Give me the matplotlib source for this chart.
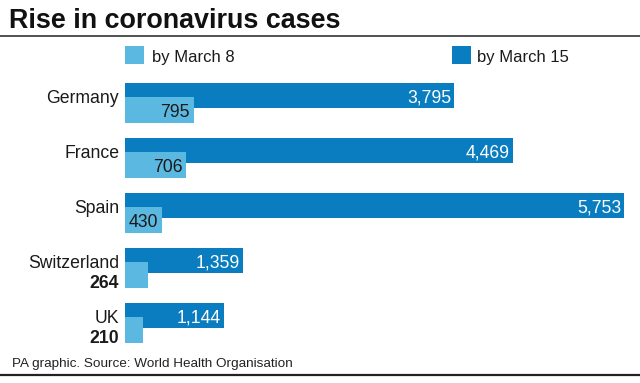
import matplotlib
matplotlib.use("Agg")
import matplotlib.pyplot as plt
from matplotlib.patches import Rectangle
from matplotlib.lines import Line2D
import numpy as np

countries = ["Germany", "France", "Spain", "Switzerland", "UK"]
march8 = [795, 706, 430, 264, 210]
march15 = [3795, 4469, 5753, 1359, 1144]
legend_labels = ["by March 8", "by March 15"]
title = "Rise in coronavirus cases"
source = "PA graphic. Source: World Health Organisation"

DARK = "#0a7dc1"
LIGHT = "#5bb8e1"
TXT = "#1a1a1a"
plt.rcParams["font.family"] = ["Liberation Sans", "DejaVu Sans"]

W, H = 640, 383
fig = plt.figure(figsize=(W / 100, H / 100), dpi=100)
fig.patch.set_facecolor("white")

def fx(px):
    return px / W

def fy(py):
    return 1 - py / H

# main axes: x from pixel 125 to 624, y from pixel 80 to 350
ax = fig.add_axes([fx(125), fy(350), fx(624) - fx(125), (350 - 80) / H])
ax.set_xlim(0, 5753)
ax.set_ylim(4.491, -0.418)
ax.axis("off")

y = np.arange(len(countries))
dark_off, light_off = -0.136, 0.127
ax.barh(y + dark_off, march15, height=0.4545, color=DARK, linewidth=0)
ax.barh(y + light_off, march8, height=0.4727, color=LIGHT, linewidth=0)

dy = -2.5
for i, (c, v8, v15) in enumerate(zip(countries, march8, march15)):
    ax.annotate(c, xy=(0, i + dark_off), xytext=(-6, dy), textcoords="offset pixels",
                ha="right", va="center", fontsize=12.7, color=TXT, annotation_clip=False)
    ax.annotate(f"{v15:,}", xy=(v15, i + dark_off), xytext=(-3, dy), textcoords="offset pixels",
                ha="right", va="center", fontsize=12.7, color="white", annotation_clip=False)
    if v8 >= 400:
        ax.annotate(f"{v8:,}", xy=(v8, i + light_off), xytext=(-4, dy), textcoords="offset pixels",
                    ha="right", va="center", fontsize=12.7, color=TXT, annotation_clip=False)
    else:
        ax.annotate(f"{v8:,}", xy=(0, i + light_off), xytext=(-6, dy - 6), textcoords="offset pixels",
                    ha="right", va="center", fontsize=12.7, color=TXT, fontweight="bold",
                    annotation_clip=False)

# title and rule
fig.text(fx(9), fy(28), title, fontsize=19.4, fontweight="bold", color="#111111", va="baseline")
fig.add_artist(Line2D([0, 1], [fy(35.5), fy(35.5)], color="#222222", linewidth=1.1))

# legend
for (sx, tx, col, lab) in [(125, 152, LIGHT, legend_labels[0]), (452, 477, DARK, legend_labels[1])]:
    fig.add_artist(Rectangle((fx(sx), fy(64)), fx(19), 18 / H, color=col, linewidth=0))
    fig.text(fx(tx), fy(62), lab, fontsize=12, color=TXT, va="baseline")

# footer
fig.text(fx(12), fy(367), source, fontsize=9.7, color="#222222", va="baseline")
fig.add_artist(Line2D([0, 1], [fy(375), fy(375)], color="#222222", linewidth=1.6))

fig.savefig("out.png", dpi=100, facecolor="white")
